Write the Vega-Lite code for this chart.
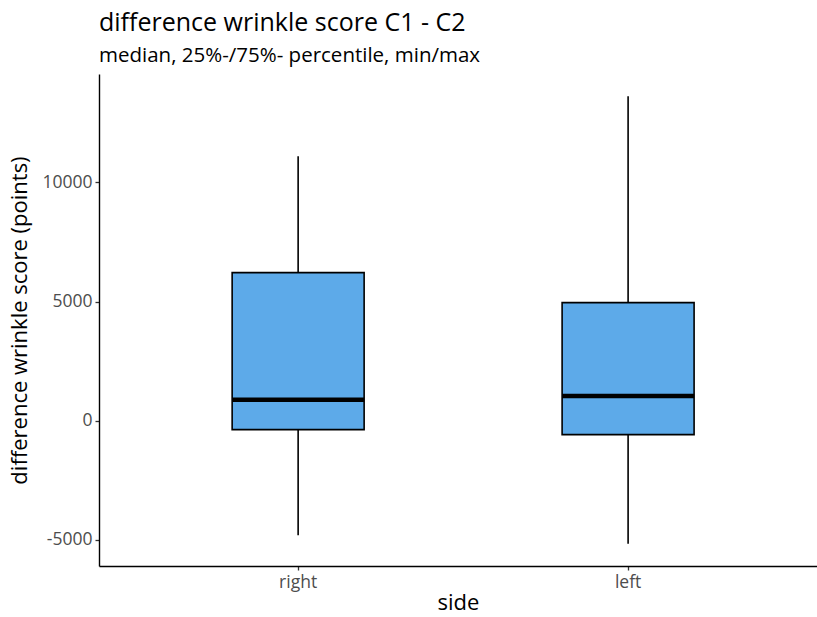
{
  "$schema": "https://vega.github.io/schema/vega-lite/v6.json",
  "autosize": {"type": "none"},
  "padding": {"left": 99, "top": 74, "right": 0, "bottom": 51},
  "width": 718,
  "height": 492,
  "background": "white",
  "title": {
    "text": "difference wrinkle score C1 - C2",
    "subtitle": "median, 25%-/75%- percentile, min/max",
    "anchor": "start",
    "frame": "group",
    "font": "Open Sans",
    "fontSize": 25,
    "fontWeight": "normal",
    "color": "black",
    "subtitleFont": "Open Sans",
    "subtitleFontSize": 20.5,
    "subtitleColor": "black",
    "subtitlePadding": 10,
    "offset": 8
  },
  "config": {
    "view": {"stroke": null},
    "font": "Open Sans",
    "axis": {
      "grid": false,
      "domainColor": "black",
      "domainWidth": 1.4,
      "tickColor": "#333333",
      "tickWidth": 1.3,
      "tickSize": 4,
      "labelColor": "#4D4D4D",
      "labelFont": "Open Sans",
      "labelFontSize": 17.5,
      "labelPadding": 3,
      "titleFont": "Open Sans",
      "titleFontSize": 22,
      "titleFontWeight": "normal",
      "titleColor": "black"
    }
  },
  "data": {
    "values": [
      {"side": "right", "min": -4815, "q1": -378, "median": 882, "q3": 6213, "max": 11096},
      {"side": "left", "min": -5164, "q1": -588, "median": 1033, "q3": 4954, "max": 13615}
    ]
  },
  "encoding": {
    "x": {
      "field": "side",
      "type": "nominal",
      "sort": ["right", "left"],
      "scale": {"type": "band", "paddingInner": 0.6, "paddingOuter": 0.388, "align": 0.52},
      "axis": {"labelAngle": 0, "title": "side", "titlePadding": 2}
    }
  },
  "layer": [
    {
      "mark": {"type": "rule", "color": "black", "strokeWidth": 1.6},
      "encoding": {
        "y": {
          "field": "min",
          "type": "quantitative",
          "scale": {"domain": [-6103, 14554], "nice": false, "zero": false},
          "axis": {"values": [-5000, 0, 5000, 10000], "title": "difference wrinkle score (points)", "titlePadding": 10, "labelExpr": "'' + datum.value"}
        },
        "y2": {"field": "max"}
      }
    },
    {
      "mark": {"type": "bar", "fill": "#5DAAE9", "stroke": "black", "strokeWidth": 1.6},
      "encoding": {
        "y": {"field": "q1", "type": "quantitative"},
        "y2": {"field": "q3"}
      }
    },
    {
      "mark": {"type": "bar", "fill": null, "stroke": "black", "strokeWidth": 4.5},
      "encoding": {
        "y": {"field": "median", "type": "quantitative"},
        "y2": {"field": "median"}
      }
    }
  ]
}
